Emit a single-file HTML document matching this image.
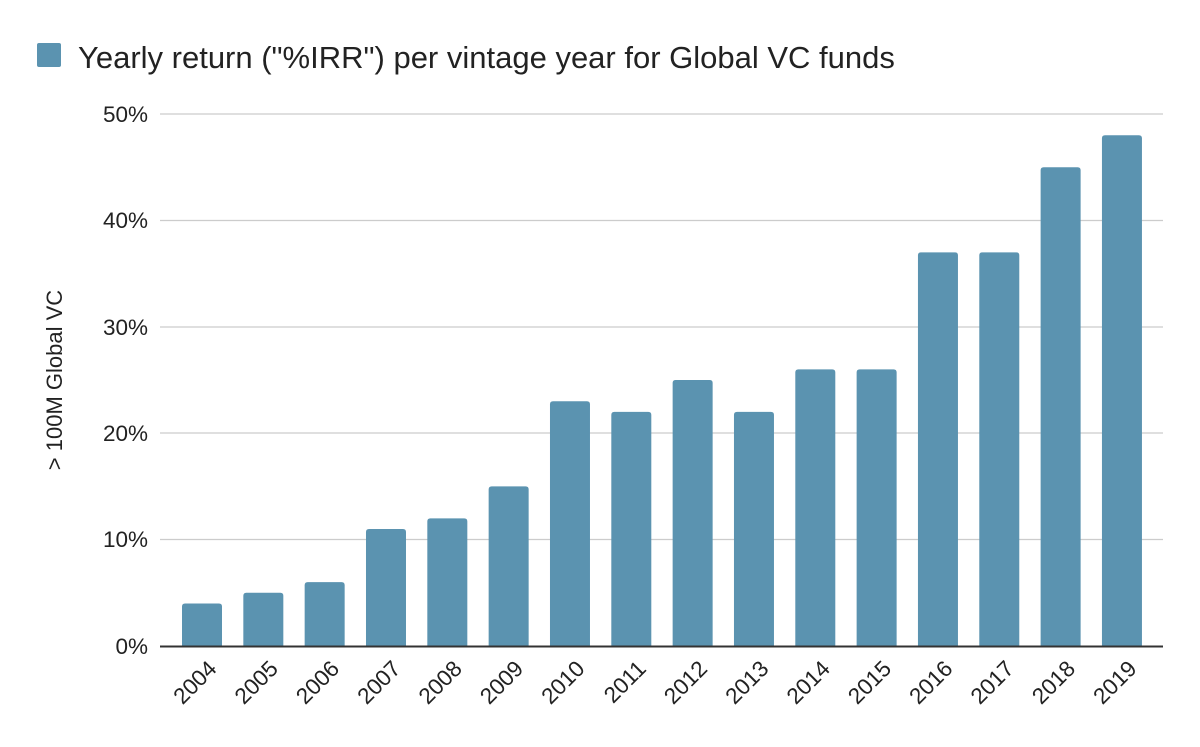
<!DOCTYPE html>
<html><head><meta charset="utf-8"><style>html,body{margin:0;padding:0;background:#fff}</style></head><body>
<svg width="1200" height="742" xmlns="http://www.w3.org/2000/svg" font-family="'Liberation Sans', Arial, sans-serif">
<rect width="1200" height="742" fill="#fff"/>
<rect x="37" y="43" width="24" height="24" rx="2" fill="#5b93b0"/>
<text x="78" y="68" font-size="31" fill="#222">Yearly return ("%IRR") per vintage year for Global VC funds</text>
<g stroke="#cccccc" stroke-width="1.3">
<line x1="160" x2="1163" y1="114" y2="114"/>
<line x1="160" x2="1163" y1="220.5" y2="220.5"/>
<line x1="160" x2="1163" y1="327" y2="327"/>
<line x1="160" x2="1163" y1="433" y2="433"/>
<line x1="160" x2="1163" y1="539.5" y2="539.5"/>
</g>
<g font-size="22.5" fill="#222" text-anchor="end">
<text x="148" y="122">50%</text>
<text x="148" y="228">40%</text>
<text x="148" y="335">30%</text>
<text x="148" y="441">20%</text>
<text x="148" y="547">10%</text>
<text x="148" y="654">0%</text>
</g>
<text transform="translate(62,380) rotate(-90)" font-size="22" fill="#222" text-anchor="middle">&gt; 100M Global VC</text>
<g fill="#5b93b0" id="bars"></g>
<g id="labels" font-size="22.5" fill="#222" text-anchor="end"></g>
<line x1="160" x2="1163" y1="646.5" y2="646.5" stroke="#333" stroke-width="2"/>
<script>
var v=[4,5,6,11,12,15,23,22,25,22,26,26,37,37,45,48];
var b=document.getElementById('bars'),l=document.getElementById('labels'),ns='http://www.w3.org/2000/svg';
v.forEach(function(d,i){
 var x=182+i*61.33,h=d*10.64,y=646-h;
 var p=document.createElementNS(ns,'path');
 p.setAttribute('d','M'+x+' 646V'+(y+3)+'Q'+x+' '+y+' '+(x+3)+' '+y+'H'+(x+37)+'Q'+(x+40)+' '+y+' '+(x+40)+' '+(y+3)+'V646Z');
 b.appendChild(p);
 var t=document.createElementNS(ns,'text');
 var cx=x+36,cy=670;
 t.setAttribute('transform','translate('+cx+','+cy+') rotate(-45)');
 t.textContent=2004+i;
 l.appendChild(t);
});
</script>
</svg>
</body></html>
